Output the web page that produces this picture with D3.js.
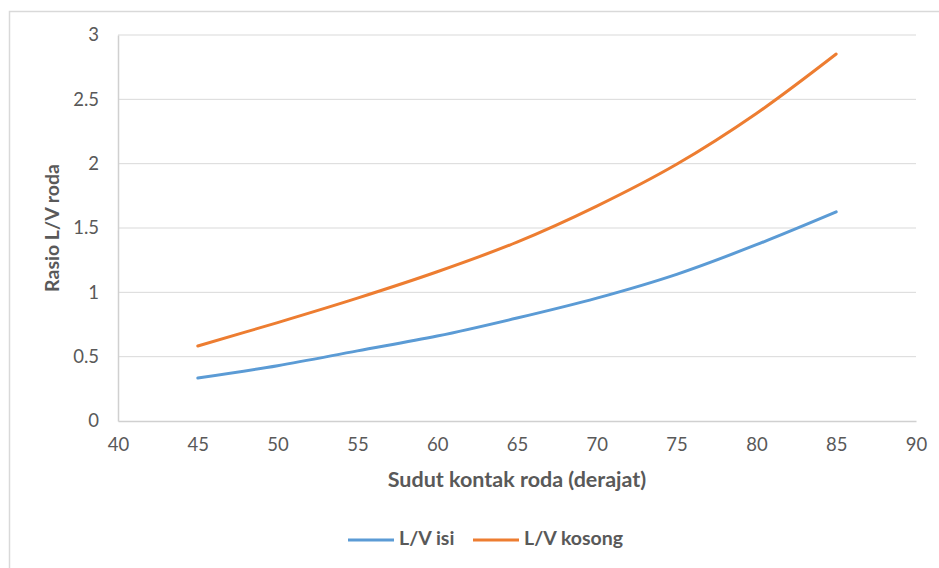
<!DOCTYPE html>
<html>
<head>
<meta charset="utf-8">
<script src="https://cdn.jsdelivr.net/npm/d3@7"></script>
<style>
    body { margin: 0; background: #fff; }
    svg { display: block; }
    .tick text { font-family: Lato, "Open Sans", sans-serif; fill: #595959; }
</style>
</head>
<body>
<svg id="chart" width="939" height="568"></svg>
<script>
// Chart data
const angles = [45, 50, 55, 60, 65, 70, 75, 80, 85];
const lvIsi = [0.334, 0.43, 0.545, 0.66, 0.80, 0.955, 1.14, 1.37, 1.625];
const lvKosong = [0.583, 0.765, 0.955, 1.16, 1.39, 1.67, 1.995, 2.39, 2.852];
const xTicks = [40, 45, 50, 55, 60, 65, 70, 75, 80, 85, 90];
const yTicks = [0, 0.5, 1, 1.5, 2, 2.5, 3];
const seriesNames = ['L/V isi', 'L/V kosong'];
const seriesColors = ['#5b9bd5', '#ed7d31'];

const svg = d3.select('#chart');
const plot = {left: 118, right: 916, top: 35, bottom: 421};
const font = 'Lato, "Open Sans", sans-serif';

// Chart frame
svg.append('rect')
    .attr('x', 9.5).attr('y', 11.5)
    .attr('width', 960).attr('height', 600)
    .attr('fill', '#fff')
    .attr('stroke', '#d9d9d9')
    .attr('stroke-width', 1.5);

const x = d3.scaleLinear().domain([40, 90]).range([plot.left, plot.right]);
const y = d3.scaleLinear().domain([0, 3]).range([plot.bottom, plot.top]);

// Gridlines
svg.append('g')
    .selectAll('line')
    .data(yTicks.filter(d => d > 0))
    .join('line')
    .attr('x1', plot.left).attr('x2', plot.right)
    .attr('y1', d => y(d)).attr('y2', d => y(d))
    .attr('stroke', '#d9d9d9')
    .attr('stroke-width', 1);

// Axes
const xAxis = svg.append('g')
    .attr('transform', `translate(0,${plot.bottom})`)
    .call(d3.axisBottom(x).tickValues(xTicks).tickSize(0).tickPadding(17).tickFormat(d3.format('d')));
xAxis.select('.domain').attr('stroke', '#d0d0d0').attr('stroke-width', 1.5);
xAxis.selectAll('text').style('font-size', '18.5px');

const yAxis = svg.append('g')
    .attr('transform', `translate(${plot.left},0)`)
    .call(d3.axisLeft(y).tickValues(yTicks).tickSize(0).tickPadding(19).tickFormat(d => d));
yAxis.select('.domain').attr('stroke', '#d0d0d0').attr('stroke-width', 1.5);
yAxis.selectAll('text').style('font-size', '18.5px');

// Axis titles
svg.append('text')
    .attr('x', (plot.left + plot.right) / 2)
    .attr('y', 481)
    .attr('text-anchor', 'middle')
    .attr('dominant-baseline', 'middle')
    .style('font-family', font)
    .style('font-weight', 'bold')
    .style('font-size', '21.5px')
    .style('fill', '#595959')
    .text('Sudut kontak roda (derajat)');

svg.append('text')
    .attr('transform', 'translate(54,228) rotate(-90)')
    .attr('text-anchor', 'middle')
    .attr('dominant-baseline', 'middle')
    .style('font-family', font)
    .style('font-weight', 'bold')
    .style('font-size', '19.5px')
    .style('fill', '#595959')
    .text('Rasio L/V roda');

// Series lines
const line = d3.line()
    .x(d => x(d[0]))
    .y(d => y(d[1]))
    .curve(d3.curveCatmullRom.alpha(0.5));

[lvIsi, lvKosong].forEach((values, i) => {
    svg.append('path')
        .datum(angles.map((a, j) => [a, values[j]]))
        .attr('fill', 'none')
        .attr('stroke', seriesColors[i])
        .attr('stroke-width', 3)
        .attr('stroke-linecap', 'round')
        .attr('d', line);
});

// Legend
const legendPos = [348, 473];
seriesNames.forEach((name, i) => {
    const g = svg.append('g').attr('transform', `translate(${legendPos[i]},540)`);
    g.append('line')
        .attr('x1', 0).attr('x2', 46)
        .attr('stroke', seriesColors[i])
        .attr('stroke-width', 3);
    g.append('text')
        .attr('x', 51)
        .attr('dominant-baseline', 'middle')
        .style('font-family', font)
        .style('font-weight', 'bold')
        .style('font-size', '19.5px')
        .style('fill', '#595959')
        .text(name);
});
</script>
</body>
</html>
